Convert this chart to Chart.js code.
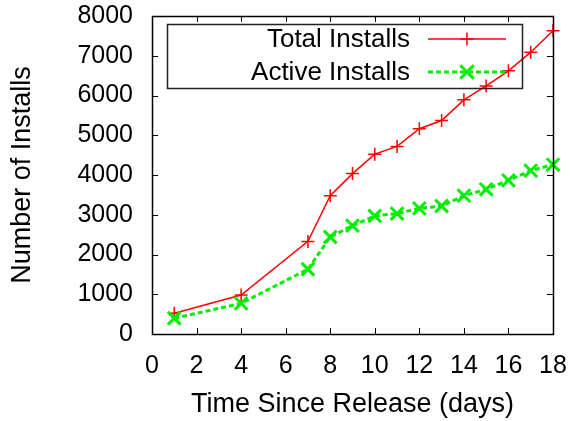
<!DOCTYPE html>
<html>
<head>
<meta charset="utf-8">
<script src="https://cdn.jsdelivr.net/npm/chart.js@4.4.1/dist/chart.umd.min.js"></script>
<style>
  html, body { margin: 0; padding: 0; background: #fff; }
  #wrap { width: 573px; height: 421px; }
</style>
</head>
<body>
<div id="wrap"><canvas id="installs"></canvas></div>
<script>
// datos
var days = [1, 4, 7, 8, 9, 10, 11, 12, 13, 14, 15, 16, 17, 18];
var totalInstalls = [520, 980, 2330, 3480, 4035, 4525, 4720, 5165, 5370, 5890, 6240, 6620, 7090, 7630];
var activeInstalls = [395, 770, 1630, 2440, 2725, 2970, 3030, 3160, 3220, 3480, 3640, 3865, 4110, 4260];
var xTicks = [0, 2, 4, 6, 8, 10, 12, 14, 16, 18];
var yTicks = [0, 1000, 2000, 3000, 4000, 5000, 6000, 7000, 8000];
var seriesNames = ['Total Installs', 'Active Installs'];

var FONT = 'Liberation Sans, Arial, Helvetica, sans-serif';

function pairs(xs, ys) {
  return xs.map(function (x, i) { return { x: x, y: ys[i] }; });
}

// marco estilo gnuplot con ticks hacia adentro + leyenda
var framePlugin = {
  id: 'frame',
  afterDraw: function (chart) {
    var ctx = chart.ctx;
    var a = chart.chartArea;
    var xs = chart.scales.x, ys = chart.scales.y;
    var tl = 6;
    ctx.save();
    ctx.strokeStyle = '#000';
    ctx.lineWidth = 1;
    ctx.beginPath();
    xTicks.forEach(function (v) {
      var px = Math.round(xs.getPixelForValue(v)) + 0.5;
      ctx.moveTo(px, a.bottom); ctx.lineTo(px, a.bottom - tl);
      ctx.moveTo(px, a.top); ctx.lineTo(px, a.top + tl);
    });
    yTicks.forEach(function (v) {
      var py = Math.round(ys.getPixelForValue(v)) + 0.5;
      ctx.moveTo(a.left, py); ctx.lineTo(a.left + tl, py);
      ctx.moveTo(a.right, py); ctx.lineTo(a.right - tl, py);
    });
    ctx.stroke();
    ctx.lineWidth = 1.5;
    ctx.strokeRect(Math.round(a.left) + 0.5, Math.round(a.top) + 0.5,
      Math.round(a.right - a.left), Math.round(a.bottom - a.top));

    // leyenda (sin fondo, como en gnuplot)
    ctx.strokeStyle = '#222';
    ctx.lineWidth = 1.5;
    ctx.strokeRect(167.5, 24.5, 355, 64);
    var rows = [39, 72];
    chart.data.datasets.forEach(function (ds, i) {
      var y = rows[i];
      ctx.fillStyle = '#000';
      ctx.font = '26px ' + FONT;
      ctx.textAlign = 'right';
      ctx.textBaseline = 'middle';
      ctx.fillText(ds.label, 410, y + 1);
      ctx.strokeStyle = ds.borderColor;
      ctx.lineWidth = ds.borderWidth;
      ctx.setLineDash(ds.borderDash || []);
      ctx.beginPath();
      ctx.moveTo(428, y); ctx.lineTo(506, y);
      ctx.stroke();
      ctx.setLineDash([]);
      ctx.lineWidth = ds.pointBorderWidth;
      var r = ds.pointRadius;
      ctx.beginPath();
      if (ds.pointStyle === 'cross') {
        ctx.moveTo(467 - r, y); ctx.lineTo(467 + r, y);
        ctx.moveTo(467, y - r); ctx.lineTo(467, y + r);
      } else {
        var d = r * 0.75;
        ctx.moveTo(467 - d, y - d); ctx.lineTo(467 + d, y + d);
        ctx.moveTo(467 + d, y - d); ctx.lineTo(467 - d, y + d);
      }
      ctx.stroke();
    });
    ctx.restore();
  }
};

var config = {
  type: 'line',
  data: {
    datasets: [{
      label: seriesNames[0],
      data: pairs(days, totalInstalls),
      order: 1,
      borderColor: '#ff0000',
      borderWidth: 1.5,
      pointStyle: 'cross',
      pointRadius: 6.5,
      pointBorderWidth: 1.5,
      pointBorderColor: '#ff0000',
      pointBackgroundColor: '#ff0000',
      tension: 0,
      fill: false,
      clip: false
    }, {
      label: seriesNames[1],
      data: pairs(days, activeInstalls),
      order: 0,
      borderColor: '#00ee00',
      borderWidth: 3,
      borderDash: [5, 3],
      pointStyle: 'crossRot',
      pointRadius: 9,
      pointBorderWidth: 3,
      pointBorderColor: '#00ee00',
      pointBackgroundColor: '#00ee00',
      tension: 0,
      fill: false,
      clip: false
    }]
  },
  options: {
    responsive: true,
    maintainAspectRatio: false,
    animation: false,
    layout: { padding: { left: 0, right: 20, top: 16, bottom: 0 } },
    plugins: {
      legend: { display: false },
      tooltip: { enabled: false }
    },
    scales: {
      x: {
        type: 'linear',
        min: 0,
        max: 18,
        afterBuildTicks: function (s) { s.ticks = xTicks.map(function (v) { return { value: v }; }); },
        afterFit: function (s) { s.height = 87; s.paddingLeft = 0; s.paddingRight = 0; },
        grid: { display: false, drawTicks: false },
        border: { display: false },
        ticks: { color: '#000', font: { family: FONT, size: 25 }, padding: 17, maxRotation: 0,
          callback: function (v) { return String(v); } },
        title: { display: true, text: 'Time Since Release (days)', color: '#000', font: { family: FONT, size: 27 }, padding: { top: 0, bottom: 0 } }
      },
      y: {
        min: 0,
        max: 8000,
        afterBuildTicks: function (s) { s.ticks = yTicks.map(function (v) { return { value: v }; }); },
        afterFit: function (s) { s.width = 152; s.paddingTop = 0; s.paddingBottom = 0; },
        grid: { display: false, drawTicks: false },
        border: { display: false },
        ticks: { color: '#000', font: { family: FONT, size: 25 }, padding: 19,
          callback: function (v) { return String(v); } },
        title: { display: true, text: 'Number of Installs', color: '#000', font: { family: FONT, size: 27 }, padding: { top: 6, bottom: 0 } }
      }
    }
  },
  plugins: [framePlugin]
};

var chart = new Chart(document.getElementById('installs').getContext('2d'), config);
</script>
</body>
</html>
